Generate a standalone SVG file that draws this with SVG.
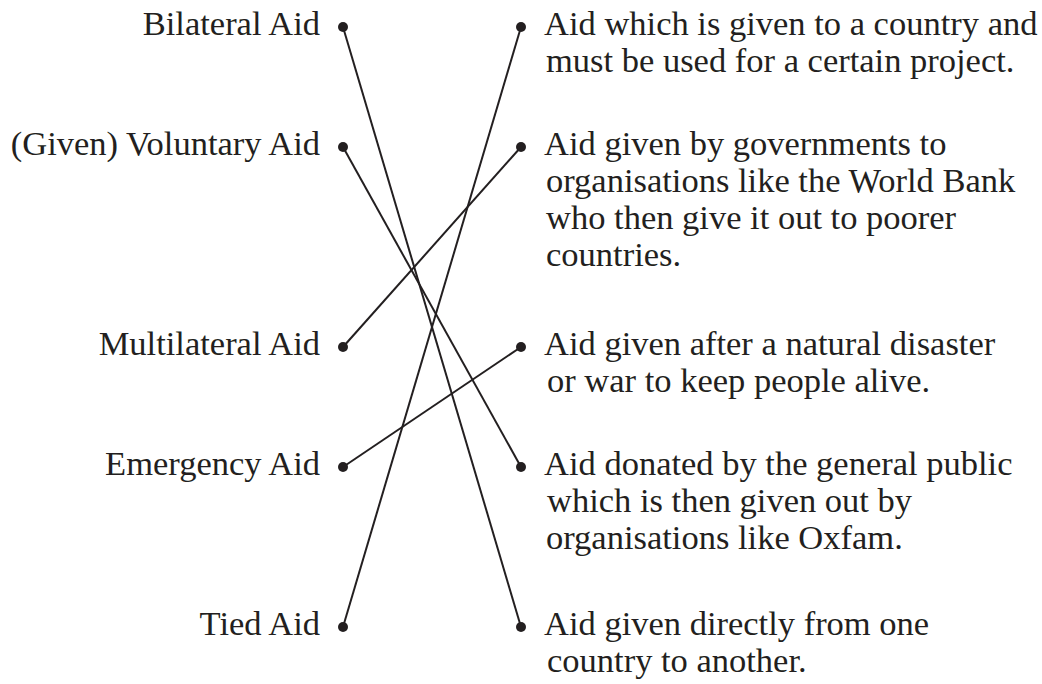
<svg xmlns="http://www.w3.org/2000/svg" width="1042" height="684" viewBox="0 0 1042 684">
<style>
text { font-family: "Liberation Serif", "Times New Roman", serif; font-size: 34.5px; fill: #231f20; }
.l { text-anchor: end; }
.dot { fill: #231f20; }
.conn line { stroke: #231f20; stroke-width: 2; }
</style>
<rect width="1042" height="684" fill="#ffffff"/>
<g id="connectors" class="conn">
<line x1="343" y1="27" x2="521" y2="627"/>
<line x1="343" y1="147" x2="521" y2="467"/>
<line x1="343" y1="347" x2="521" y2="147"/>
<line x1="343" y1="467" x2="521" y2="347"/>
<line x1="343" y1="627" x2="521" y2="27"/>
</g>
<g id="bilateral"><text class="l" x="320" y="35">Bilateral Aid</text><circle class="dot" cx="343" cy="27" r="5"/></g>
<g id="voluntary"><text class="l" x="320" y="155">(Given) Voluntary Aid</text><circle class="dot" cx="343" cy="147" r="5"/></g>
<g id="multilateral"><text class="l" x="320" y="355">Multilateral Aid</text><circle class="dot" cx="343" cy="347" r="5"/></g>
<g id="emergency"><text class="l" x="320" y="475">Emergency Aid</text><circle class="dot" cx="343" cy="467" r="5"/></g>
<g id="tied"><text class="l" x="320" y="635">Tied Aid</text><circle class="dot" cx="343" cy="627" r="5"/></g>
<g id="def-tied"><circle class="dot" cx="521" cy="27" r="5"/><text x="544" y="35">Aid which is given to a country and</text><text x="546" y="72">must be used for a certain project.</text></g>
<g id="def-multilateral"><circle class="dot" cx="521" cy="147" r="5"/><text x="544" y="155">Aid given by governments to</text><text x="546" y="192">organisations like the World Bank</text><text x="546" y="229">who then give it out to poorer</text><text x="546" y="266">countries.</text></g>
<g id="def-emergency"><circle class="dot" cx="521" cy="347" r="5"/><text x="544" y="355">Aid given after a natural disaster</text><text x="547" y="392">or war to keep people alive.</text></g>
<g id="def-voluntary"><circle class="dot" cx="521" cy="467" r="5"/><text x="544" y="475">Aid donated by the general public</text><text x="547" y="512">which is then given out by</text><text x="546" y="549">organisations like Oxfam.</text></g>
<g id="def-bilateral"><circle class="dot" cx="521" cy="627" r="5"/><text x="544" y="635">Aid given directly from one</text><text x="547" y="672">country to another.</text></g>
</svg>
